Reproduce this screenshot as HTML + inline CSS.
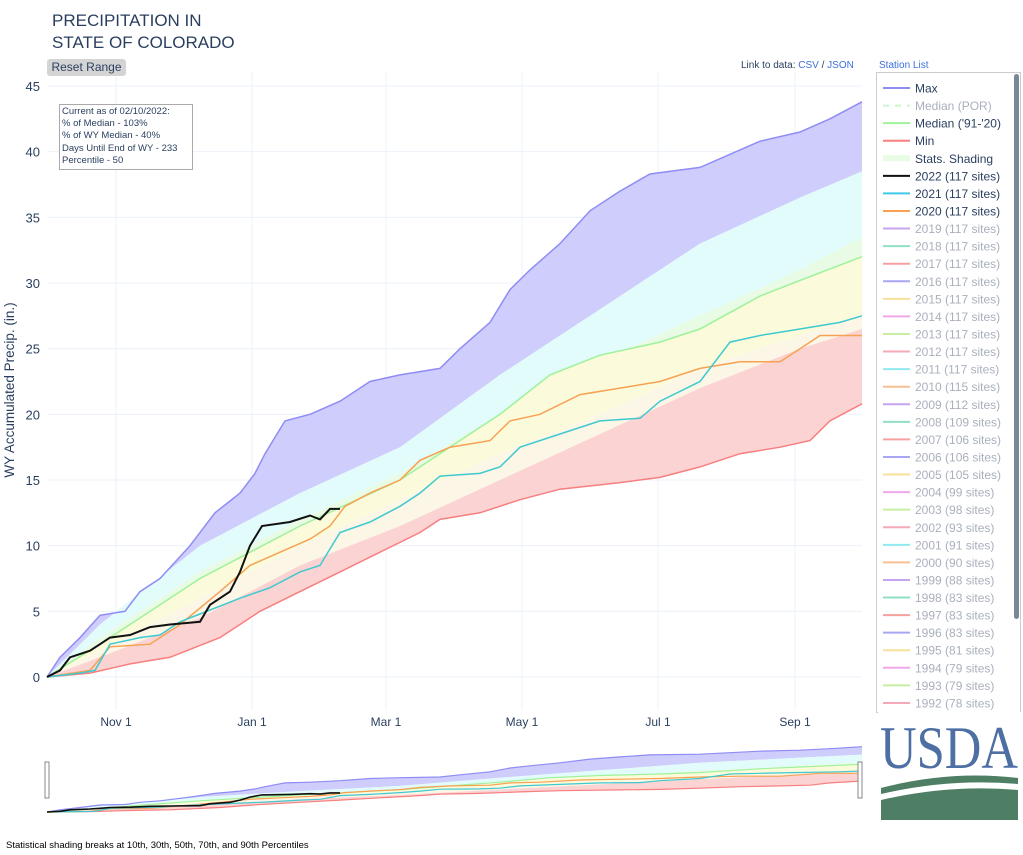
<!DOCTYPE html>
<html><head><meta charset="utf-8"><style>
body{margin:0;width:1023px;height:855px;background:#fff;font-family:"Liberation Sans",sans-serif;overflow:hidden;position:relative}
.t{position:absolute;color:#2a3f5f}
</style></head><body>
<svg id="s" width="1023" height="855" style="position:absolute;left:0;top:0" font-family="Liberation Sans, sans-serif"></svg>
<div class="t" style="left:52px;top:10px;font-size:17px;line-height:22px">PRECIPITATION IN<br>STATE OF COLORADO</div>
<div class="t" style="left:47px;top:59px;width:79px;height:17px;background:#d4d4d4;border-radius:3px;font-size:12px;line-height:17px;text-align:center">Reset Range</div>
<div class="t" style="left:741px;top:60px;font-size:10px">Link to data: <span style="color:#3b6fe0">CSV</span> / <span style="color:#3b6fe0">JSON</span></div>
<div class="t" style="left:879px;top:60px;font-size:10px;color:#3b6fe0">Station List</div>
<div class="t" style="left:59px;top:104px;width:128px;height:62px;border:1px solid #aaa;background:#fff;font-size:9.5px;line-height:12.2px;padding:1px 2px">Current as of 02/10/2022:<br>% of Median - 103%<br>% of WY Median - 40%<br>Days Until End of WY - 233<br>Percentile - 50</div>
<div class="t" style="left:6px;top:840px;font-size:9.5px;color:#000">Statistical shading breaks at 10th, 30th, 50th, 70th, and 90th Percentiles</div>
<script>
const S=document.getElementById('s');let h='';
const Y=v=>677-13.133*v;
const P=(a,ys)=>a.map((p,i)=>(i?'L':'M')+p[0]+','+ys(p[1]).toFixed(1)).join('');
const band=(top,bot,ys)=>P(top,ys)+bot.slice().reverse().map(p=>'L'+p[0]+','+ys(p[1]).toFixed(1)).join('')+'Z';
const mx=[[47,0],[60,1.5],[80,3],[100,4.7],[125,5],[140,6.5],[160,7.5],[190,10],[215,12.5],[240,14],[255,15.5],[265,17],[285,19.5],[310,20],[340,21],[370,22.5],[400,23],[440,23.5],[460,25],[490,27],[510,29.5],[530,31],[560,33],[590,35.5],[620,37],[650,38.3],[700,38.8],[760,40.8],[800,41.5],[830,42.5],[862,43.8]];
const mn=[[47,0],[90,0.3],[130,1],[170,1.5],[220,3],[260,5],[300,6.5],[340,8],[380,9.5],[420,11],[440,12],[480,12.5],[520,13.5],[560,14.3],[620,14.8],[660,15.2],[700,16],[740,17],[780,17.5],[810,18],[830,19.5],[862,20.8]];
const p90=[[47,0],[100,4],[200,10],[300,14],[400,17.5],[500,23],[600,28],[700,33],[800,36.5],[862,38.5]];
const p70=[[47,0],[100,3],[200,8],[300,12],[400,15.5],[500,20],[600,24],[700,27.5],[800,31],[862,33.5]];
const md=[[47,0],[100,2.5],[200,7.5],[300,11.5],[400,15],[500,20],[550,23],[600,24.5],[660,25.5],[700,26.5],[760,29],[800,30.2],[862,32]];
const p30=[[47,0],[100,2],[200,6],[300,10],[400,13.5],[500,17],[600,20],[700,23.5],[800,26],[862,27.5]];
const p10=[[47,0],[100,1.5],[200,4.5],[300,8.5],[400,11.5],[500,15],[600,18.5],[700,22],[800,25],[862,26.5]];
const y22=[[47,0],[60,0.5],[70,1.5],[90,2],[100,2.5],[110,3],[130,3.2],[150,3.8],[170,4],[200,4.2],[210,5.5],[230,6.5],[240,8],[250,10],[262,11.5],[290,11.8],[310,12.3],[320,12],[330,12.8],[340,12.8]];
const y21=[[47,0],[80,0.3],[95,0.5],[110,2.5],[140,3],[160,3.2],[180,4.2],[200,4.8],[240,6],[270,6.8],[300,8],[320,8.5],[340,11],[370,11.8],[400,13],[420,14],[440,15.3],[480,15.5],[500,16],[520,17.5],[560,18.5],[600,19.5],[640,19.7],[660,21],[700,22.5],[730,25.5],[760,26],[800,26.5],[840,27],[862,27.5]];
const y20=[[47,0],[90,0.5],[110,2.3],[150,2.5],[180,4],[220,6.5],[250,8.5],[280,9.5],[310,10.5],[330,11.5],[345,13],[370,14],[400,15],[420,16.5],[450,17.5],[490,18],[510,19.5],[540,20],[580,21.5],[620,22],[660,22.5],[700,23.5],[740,24],[780,24],[800,25],[820,26],[862,26]];
function chart(ys,w){let o='';
o+=`<path d="${band(mx,p90,ys)}" fill="#cfcdfb"/>`;
o+=`<path d="${band(p90,p70,ys)}" fill="#e2fbfb"/>`;
o+=`<path d="${band(p70,md,ys)}" fill="#e8fbe4"/>`;
o+=`<path d="${band(md,p30,ys)}" fill="#fbfbdc"/>`;
o+=`<path d="${band(p30,p10,ys)}" fill="#fbf6e6"/>`;
o+=`<path d="${band(p10,mn,ys)}" fill="#fcd3d3"/>`;
const L=(a,c,sw)=>o+=`<path d="${P(a,ys)}" fill="none" stroke="${c}" stroke-width="${sw*w}"/>`;
L(mx,'#8f8cf5',1.5);L(md,'#9ef29a',1.5);L(mn,'#f87f7f',1.5);L(y20,'#f7a152',1.5);L(y21,'#3fc9cf',1.5);L(y22,'#111',2);return o;}
for(let v=0;v<=45;v+=5){h+=`<line x1="47" x2="862" y1="${Y(v)}" y2="${Y(v)}" stroke="#ebf0f8"/><text x="40" y="${Y(v)+5}" font-size="13" fill="#2a3f5f" text-anchor="end">${v}</text>`;}
[[116,'Nov  1'],[252,'Jan  1'],[386,'Mar  1'],[522,'May  1'],[658,'Jul  1'],[795,'Sep  1']].forEach(t=>{h+=`<line x1="${t[0]}" x2="${t[0]}" y1="72" y2="710" stroke="#ebf0f8"/><text x="${t[0]}" y="726" font-size="12" fill="#2a3f5f" text-anchor="middle">${t[1]}</text>`;});
h+=chart(Y,1);
h+=`<text transform="translate(14,390) rotate(-90)" font-size="13.5" fill="#2a3f5f" text-anchor="middle">WY Accumulated Precip. (in.)</text>`;
h+=chart(v=>812-1.49*v,0.8);
h+=`<rect x="45" y="762" width="4" height="36" fill="#fff" stroke="#888"/><rect x="858" y="762" width="4" height="36" fill="#fff" stroke="#888"/>`;
h+=`<rect x="876.5" y="72.5" width="144" height="640" fill="#fff" stroke="#ccc"/><rect x="1014" y="74" width="5" height="545" rx="2.5" fill="#7a8699"/>`;
const items=[['Max','#8f8cf5',1],['Median (POR)','#cdf5cc',0.5,'d'],["Median ('91-'20)",'#9ef29a',1],['Min','#f87f7f',1],['Stats. Shading','#e8fbe4',1,'b'],['2022 (117 sites)','#111',1],['2021 (117 sites)','#3fc9e8',1],['2020 (117 sites)','#f7a152',1],
['2019 (117 sites)','#c8a3f0',.5],['2018 (117 sites)','#8fe0c0',.5],['2017 (117 sites)','#f8a0a0',.5],['2016 (117 sites)','#a8a6f5',.5],['2015 (117 sites)','#f8e09a',.5],['2014 (117 sites)','#f0a8e8',.5],['2013 (117 sites)','#c8eea0',.5],['2012 (117 sites)','#f5a8b8',.5],['2011 (117 sites)','#90e8f0',.5],['2010 (115 sites)','#f8c090',.5],['2009 (112 sites)','#c8a3f0',.5],['2008 (109 sites)','#8fe0c0',.5],['2007 (106 sites)','#f8a0a0',.5],['2006 (106 sites)','#a8a6f5',.5],['2005 (105 sites)','#f8e09a',.5],['2004 (99 sites)','#f0a8e8',.5],['2003 (98 sites)','#c8eea0',.5],['2002 (93 sites)','#f5a8b8',.5],['2001 (91 sites)','#90e8f0',.5],['2000 (90 sites)','#f8c090',.5],['1999 (88 sites)','#c8a3f0',.5],['1998 (83 sites)','#8fe0c0',.5],['1997 (83 sites)','#f8a0a0',.5],['1996 (83 sites)','#a8a6f5',.5],['1995 (81 sites)','#f8e09a',.5],['1994 (79 sites)','#f0a8e8',.5],['1993 (79 sites)','#c8eea0',.5],['1992 (78 sites)','#f5a8b8',.5]];
items.forEach((it,i)=>{const y=88+i*17.57;if(y>712)return;
const sw=it[3]=='b'?6:2;
h+=`<line x1="883" x2="910" y1="${y}" y2="${y}" stroke="${it[1]}" stroke-width="${sw}" ${it[3]=='d'?'stroke-dasharray="6,6"':''}/>`;
h+=`<text x="915" y="${y+4.5}" font-size="12" fill="${it[2]==1?'#2a3f5f':'#a9b0bc'}">${it[0]}</text>`;});
h+=`<rect x="878" y="712" width="145" height="16" fill="#fff"/><text x="949" y="768" font-family="Liberation Serif,serif" font-size="60" fill="#4d6fa3" text-anchor="middle" textLength="138" lengthAdjust="spacingAndGlyphs">USDA</text>`;
h+=`<path d="M881 788 Q950 770 1018 778 L1018 784 Q950 778 881 794Z" fill="#4e7e64"/><path d="M881 800 Q950 784 1018 790 L1018 820 L881 820Z" fill="#4e7e64"/>`;
S.innerHTML=h;
</script>
</body></html>
